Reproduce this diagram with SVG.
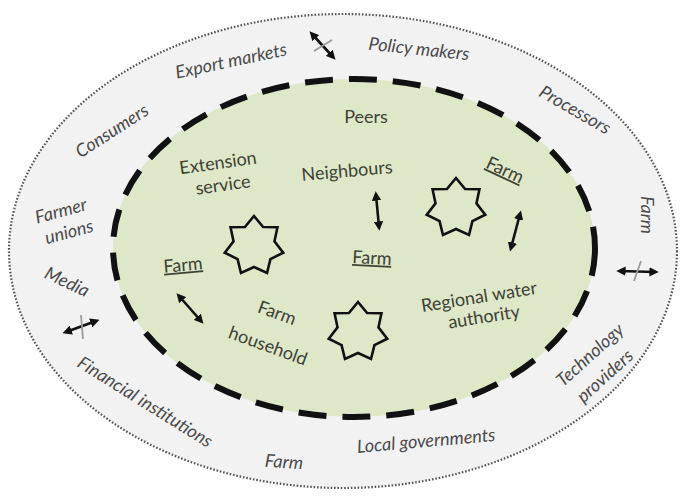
<svg xmlns="http://www.w3.org/2000/svg" width="686" height="496" viewBox="0 0 686 496">
<style>
.outer{font-family:Lato,"Open Sans","Liberation Sans",sans-serif;font-style:italic;font-size:18px;fill:#4a4a4a;text-anchor:middle}
.inner{font-family:Lato,"Open Sans","Liberation Sans",sans-serif;font-size:18px;fill:#3c4233;text-anchor:middle}
.u{text-decoration:underline}
.star{fill:none;stroke:#111;stroke-width:2.6;stroke-linejoin:miter}
.arr{stroke:#111;stroke-width:2.6;fill:none;marker-start:url(#ah);marker-end:url(#ah)}
.slash{stroke:#9a9a9a;stroke-width:1.8}
</style>
<defs>
<marker id="ah" viewBox="0 0 10 10" refX="6" refY="5" markerWidth="3.6" markerHeight="3.6" orient="auto-start-reverse">
<path d="M0,0 L10,5 L0,10 z" fill="#111"/>
</marker>
<polygon id="star" points="0,-30 9.11,-18.92 23.45,-18.71 20.47,-4.67 29.25,6.68 16.42,13.09 13.02,27.03 0,21 -13.02,27.03 -16.42,13.09 -29.25,6.68 -20.47,-4.67 -23.45,-18.71 -9.11,-18.92"/>
</defs>
<rect width="686" height="496" fill="#ffffff"/>
<g id="outer-ring">
<ellipse cx="343" cy="251" rx="334" ry="237" fill="#f2f2f2" stroke="#555" stroke-width="2.2" stroke-dasharray="1.6 1.8"/>
</g>
<g id="inner-ring">
<ellipse cx="354" cy="248" rx="241" ry="169" fill="#dfe7c9" stroke="#111" stroke-width="6" stroke-dasharray="28 16"/>
</g>
<g id="outer-labels">
<g id="export-markets"><text class="outer" transform="translate(231,61) rotate(-12)" y="6">Export markets</text></g>
<g id="policy-makers"><text class="outer" transform="translate(419,49) rotate(6)" y="6">Policy makers</text></g>
<g id="processors"><text class="outer" transform="translate(575,110) rotate(30)" y="6">Processors</text></g>
<g id="farm-right"><text class="outer" transform="translate(647,215) rotate(90)" y="6">Farm</text></g>
<g id="technology-providers"><text class="outer" transform="translate(590,355) rotate(-42)" y="6">Technology</text><text class="outer" transform="translate(605,376) rotate(-42)" y="6">providers</text></g>
<g id="local-governments"><text class="outer" transform="translate(426,441) rotate(-5)" y="6">Local governments</text></g>
<g id="farm-bottom"><text class="outer" transform="translate(284,462) rotate(4)" y="6">Farm</text></g>
<g id="financial-institutions"><text class="outer" transform="translate(145,402) rotate(32)" y="6">Financial institutions</text></g>
<g id="media"><text class="outer" transform="translate(67,282) rotate(25)" y="6">Media</text></g>
<g id="farmer-unions"><text class="outer" transform="translate(61,211) rotate(-15)" y="6">Farmer</text><text class="outer" transform="translate(69,232) rotate(-15)" y="6">unions</text></g>
<g id="consumers"><text class="outer" transform="translate(112,131) rotate(-33)" y="6">Consumers</text></g>
</g>
<g id="inner-labels">
<g id="peers"><text class="inner" x="366" y="123">Peers</text></g>
<g id="extension-service"><text class="inner" transform="translate(218,163) rotate(-8)" y="6">Extension</text><text class="inner" transform="translate(223,185) rotate(-8)" y="6">service</text></g>
<g id="neighbours"><text class="inner" transform="translate(347,171) rotate(-5)" y="6">Neighbours</text></g>
<g id="farm-center"><text class="inner u" transform="translate(372,258) rotate(3)" y="6">Farm</text></g>
<g id="farm-topright"><text class="inner u" transform="translate(505,170) rotate(25)" y="6">Farm</text></g>
<g id="farm-left"><text class="inner u" transform="translate(183,265) rotate(-5)" y="6">Farm</text></g>
<g id="farm-household"><text class="inner" transform="translate(277,313) rotate(20)" y="6">Farm</text><text class="inner" transform="translate(268,346) rotate(20)" y="6">household</text></g>
<g id="regional-water-authority"><text class="inner" transform="translate(479,297) rotate(-9)" y="6">Regional water</text><text class="inner" transform="translate(484,317) rotate(-9)" y="6">authority</text></g>
</g>
<g id="farms">
<g id="star-left"><use href="#star" class="star" x="254" y="246"/></g>
<g id="star-topright"><use href="#star" class="star" x="456" y="208"/></g>
<g id="star-bottom"><use href="#star" class="star" x="358" y="332"/></g>
</g>
<g id="connectors">
<line class="arr" x1="376" y1="195" x2="379" y2="227"/>
<line class="arr" x1="520" y1="214" x2="511" y2="248"/>
<line class="arr" x1="179" y1="296" x2="201" y2="321"/>
<line class="arr" x1="312" y1="34" x2="333" y2="57"/>
<line class="slash" x1="314" y1="51" x2="332" y2="40"/>
<line class="arr" x1="620" y1="271" x2="655" y2="272"/>
<line class="slash" x1="634" y1="281" x2="641" y2="261"/>
<line class="arr" x1="66" y1="332" x2="96" y2="321"/>
<line class="slash" x1="81" y1="315" x2="83" y2="339"/>
</g>
</svg>
